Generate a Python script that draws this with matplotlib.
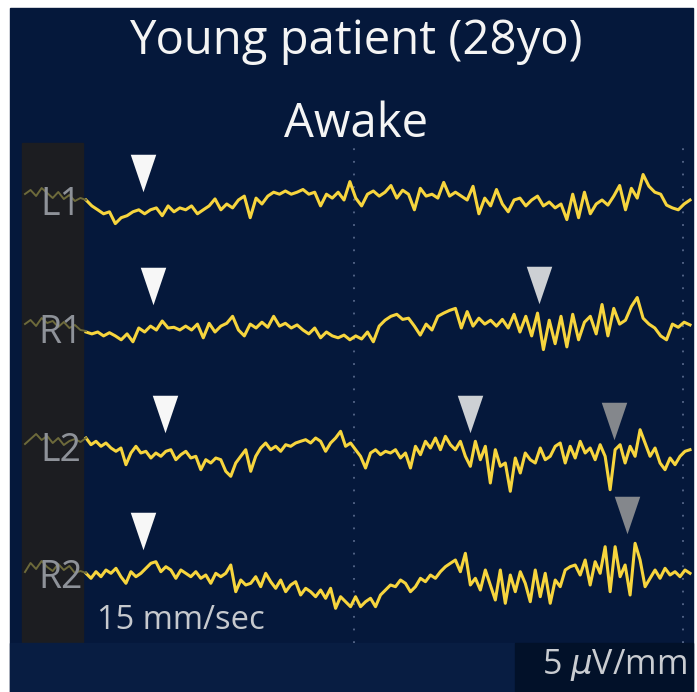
import numpy as np
import matplotlib.pyplot as plt
from matplotlib.patches import Rectangle

plt.rcParams['font.family'] = ['Open Sans', 'DejaVu Sans']
plt.rcParams['mathtext.fontset'] = 'dejavusans'

# channel names and traces (uV)
channels = ['L1', 'R1', 'L2', 'R2']

l1_uv = [2.0, -3.9, -7.8, -11.8, -9.8, -21.6, -15.7, -13.7, -9.8, -7.8,
         -11.8, -7.8, -5.9, -13.7, -3.9, -9.8, -5.9, -7.8, -3.9, -11.8,
         -7.8, -3.9, 3.1, -7.8, -2.0, -5.9, 2.0, 5.9, -15.7, 3.9,
         -2.0, 5.9, 9.8, 7.8, 11.0, 7.8, 9.8, 12.5, 7.8, 9.8,
         -3.9, 7.8, 3.9, 9.8, 2.0, 20.4, 3.9, -3.9, 7.8, 11.0,
         5.9, 9.8, 16.5, 3.9, 11.8, 7.8, -7.8, 13.7, 5.9, 7.8,
         3.9, 19.6, 5.9, 9.8, 5.9, 2.0, 15.7, -11.8, 3.9, -3.9,
         12.5, -2.0, -9.8, 2.0, 3.9, -3.9, 2.0, 5.9, -3.9, 0.0,
         -5.9, -2.0, -17.6, 7.8, -15.7, 9.8, -11.8, -2.0, 2.0, -3.1,
         5.9, 16.5, -7.8, 13.7, 3.9, 27.5, 15.7, 9.8, 7.8, -3.1,
         -5.9, -7.8, -2.0, 2.0]

r1_uv = [-2.0, -3.9, -2.0, -5.9, -2.7, -5.9, -9.8, -3.9, -11.8, 2.0,
         -2.0, 3.9, 0.0, 9.0, 2.0, 2.7, 0.0, 3.9, 0.0, 5.9,
         -7.8, 6.7, -2.0, 3.9, 6.7, 13.7, 0.0, -5.9, 5.9, 2.0,
         7.8, 2.7, 13.7, 3.9, 6.7, 2.0, 5.1, 0.0, -3.9, 2.0,
         -7.8, -2.0, -5.9, -7.8, -5.1, -9.8, -5.9, -9.0, -2.0, -11.8,
         3.9, 9.8, 13.7, 15.7, 10.6, 11.8, 3.9, -5.1, 5.9, 0.0,
         13.7, 16.9, 19.6, 21.6, 2.0, 18.4, 3.9, 11.8, 5.9, 9.8,
         3.9, 10.6, 2.0, 15.7, -2.0, 13.7, -5.9, 16.9, -19.6, 9.8,
         -13.7, 13.7, -16.9, 15.7, -9.8, 7.8, 13.7, -3.9, 25.5, -5.9,
         21.6, 5.9, 9.8, 23.5, 32.5, 11.8, 5.9, 2.0, -5.9, -9.8,
         5.9, 2.7, 7.8, 5.1]

l2_uv = [10.0, 3.3, 6.7, 1.7, 5.0, 0.0, -3.3, 0.0, -16.7, -5.0,
         1.7, -5.0, -3.3, -10.0, -5.0, -8.3, -3.3, -1.7, -11.7, -6.7,
         -3.3, -10.0, -8.3, -21.7, -11.7, -15.0, -10.0, -11.7, -23.3, -28.3,
         -15.0, -8.3, -1.7, -23.3, -8.3, 0.0, 5.0, -1.7, 1.7, -3.3,
         3.3, 1.7, 5.0, 6.7, 8.3, 5.0, 10.0, 6.7, -3.3, 5.0,
         10.0, 16.7, 1.7, 5.0, -1.7, -8.3, -20.0, -5.0, -1.7, -6.7,
         -3.3, -5.0,
         -1.7, -10.0, -5.0, -20.0, 1.7, -6.7, 6.7, 0.0, 10.0, -1.7,
         11.7, 3.3, -1.7, 6.7, -8.3, -18.3, 6.7, -11.7, 1.7, -35.0,
         -1.7, -18.3, -15.0, -43.3, -10.0, -25.0, -5.0, -11.7, -15.0, 0.0,
         -11.7, -8.3, 1.7, 5.0, -15.0, 1.7, -10.0, 6.7, -5.0, 0.0,
         -11.7, 3.3, -8.3, -41.7, -1.7, 3.3, -15.0, 1.7, -8.3, 18.3,
         5.0, -8.3, 0.0, -15.0, -21.7, -10.0, -16.7, -8.3, -3.3, -1.7]

r2_uv = [1.7, -3.3, 3.3, -1.7, 5.0, 1.7, 6.7, -1.7, -8.3, 3.3,
         -1.7, 1.7, 6.7, 11.7, 13.3, 3.3, 8.3, 5.0, -3.3, 5.0,
         1.7, -1.7, 3.3, -3.3, 0.0, -8.3, 1.7, -1.7, 1.7, 10.0,
         -16.7, -5.0, -10.0, -8.3, -1.7, -11.7, 1.7, -6.7, -13.3, -5.0,
         -16.7, -10.0, -6.7, -20.0, -13.3, -16.7, -21.7, -15.0, -23.3, -13.3,
         -33.3, -21.7, -26.7, -31.7, -21.7, -31.7, -26.7, -23.3, -31.7, -20.0,
         -15.0, -10.0,
         -11.7, -5.0, -8.3, -16.7, -11.7, -3.3, -6.7, 0.0, -3.3, 3.3,
         8.3, 11.7, 15.0, 3.3, 21.7, -10.0, -3.3, -15.0, 5.0, -10.0,
         -25.0, 5.0, -28.3, 0.0, -16.7, 3.3, -8.3, -26.7, 5.0, -21.7,
         1.7, -28.3, -5.0, -11.7, 5.0, 8.3, 10.0, 0.0, 15.0, -10.0,
         13.3, 1.7, 28.3, -16.7, 28.3, -1.7, 10.0, -20.0, 31.7, 15.0,
         -11.7, -3.3, 5.0, -3.3, 6.7, 0.0, 3.3, -1.7, 5.0, 1.7]

# faded bit of each trace behind the channel labels
l1_pre = [8, 12, 6, 14, 9, 4, 10, 3, 7, 1, 4, 2]
r1_pre = [6, 10, 4, 12, 7, 9, 3, 8, 2, 5, 0, -1]
l2_pre = [4, 9, 14, 8, 12, 5, 10, 3, 7, 9, 6, 10]
r2_pre = [3, 12, 6, 14, 8, 4, 11, 5, 9, 2, 4, 2]

# arrowheads: channel, time (s), height above trace, shade
mark_channel = [0, 1, 1, 2, 2, 2, 3, 3]
mark_time = [0.60, 0.70, 4.56, 0.82, 3.87, 5.31, 0.60, 5.44]
mark_height = [29, 44, 45, 34, 34, 27, 44, 60]
mark_shade = ['white', 'white', 'light', 'white', 'light', 'dark', 'white', 'dark']

NAVY = '#05183b'
STRIP = '#1c1d21'
LOWER = '#081d42'
BOX = '#021129'
YELLOW = '#f7d53e'
shade_colors = {'white': '#f7f7f7', 'light': '#cdd0d4', 'dark': '#84878c'}

fig = plt.figure(figsize=(6.97, 6.92), dpi=100)
fig.patch.set_facecolor('white')

# background panel in pixel units
bg = fig.add_axes([0, 0, 1, 1])
bg.set_xlim(0, 697)
bg.set_ylim(692, 0)
bg.axis('off')
bg.add_patch(Rectangle((10, 8), 683, 684, color=NAVY))
bg.add_patch(Rectangle((22, 143), 61, 500, color=STRIP))
bg.add_patch(Rectangle((10, 643), 505, 49, color=LOWER))
bg.add_patch(Rectangle((515, 643), 178, 49, color=BOX))

bg.text(356, 54, 'Young patient (28yo)', ha='center', va='baseline',
        fontsize=34, color='#f4f4f4')
bg.text(356, 137, 'Awake', ha='center', va='baseline',
        fontsize=34, color='#f4f4f4')
bg.text(97, 629, '15 mm/sec', ha='left', va='baseline',
        fontsize=23.5, color='#c6c9ce')
bg.text(687, 674, '5 $\\mu$V/mm', ha='right', va='baseline',
        fontsize=24.5, color='#c9ccd1')

# trace area
ax = fig.add_axes([83 / 697, 49 / 692, 609 / 697, 500 / 692])
ax.set_xlim(0, 6.09)
ax.set_ylim(0, 500)
ax.axis('off')
ax.patch.set_alpha(0)

ax.vlines([2.71, 6.00], 0, 500, colors='#56678a',
          linestyles=(0, (1, 6)), linewidth=1.3)

baselines = [441, 313, 195, 68]
traces = [l1_uv, r1_uv, l2_uv, r2_uv]
pre_traces = [l1_pre, r1_pre, l2_pre, r2_pre]

for name, base, vals, pre in zip(channels, baselines, traces, pre_traces):
    t = np.linspace(0.03, 6.07, len(vals))
    ax.plot(t, base + np.array(vals), color=YELLOW, lw=2.2,
            solid_joinstyle='round')
    tp = np.linspace(-0.58, 0.03, len(pre))
    ax.plot(tp, base + np.array(pre), color='#6d6a3b', lw=1.4,
            clip_on=False, zorder=2)
    ax.text(-0.22, base - 13, name, ha='center', va='baseline',
            fontsize=27, color='#8e9299', clip_on=False, zorder=5)

tri = [(-0.68, 1), (0.68, 1), (0, -1)]
for ch, tm, h, sh in zip(mark_channel, mark_time, mark_height, mark_shade):
    ax.plot([tm], [baselines[ch] + h], marker=tri, ms=27, ls='none',
            mfc=shade_colors[sh], mec='none', zorder=6)

fig.savefig('out.png', dpi=100)
